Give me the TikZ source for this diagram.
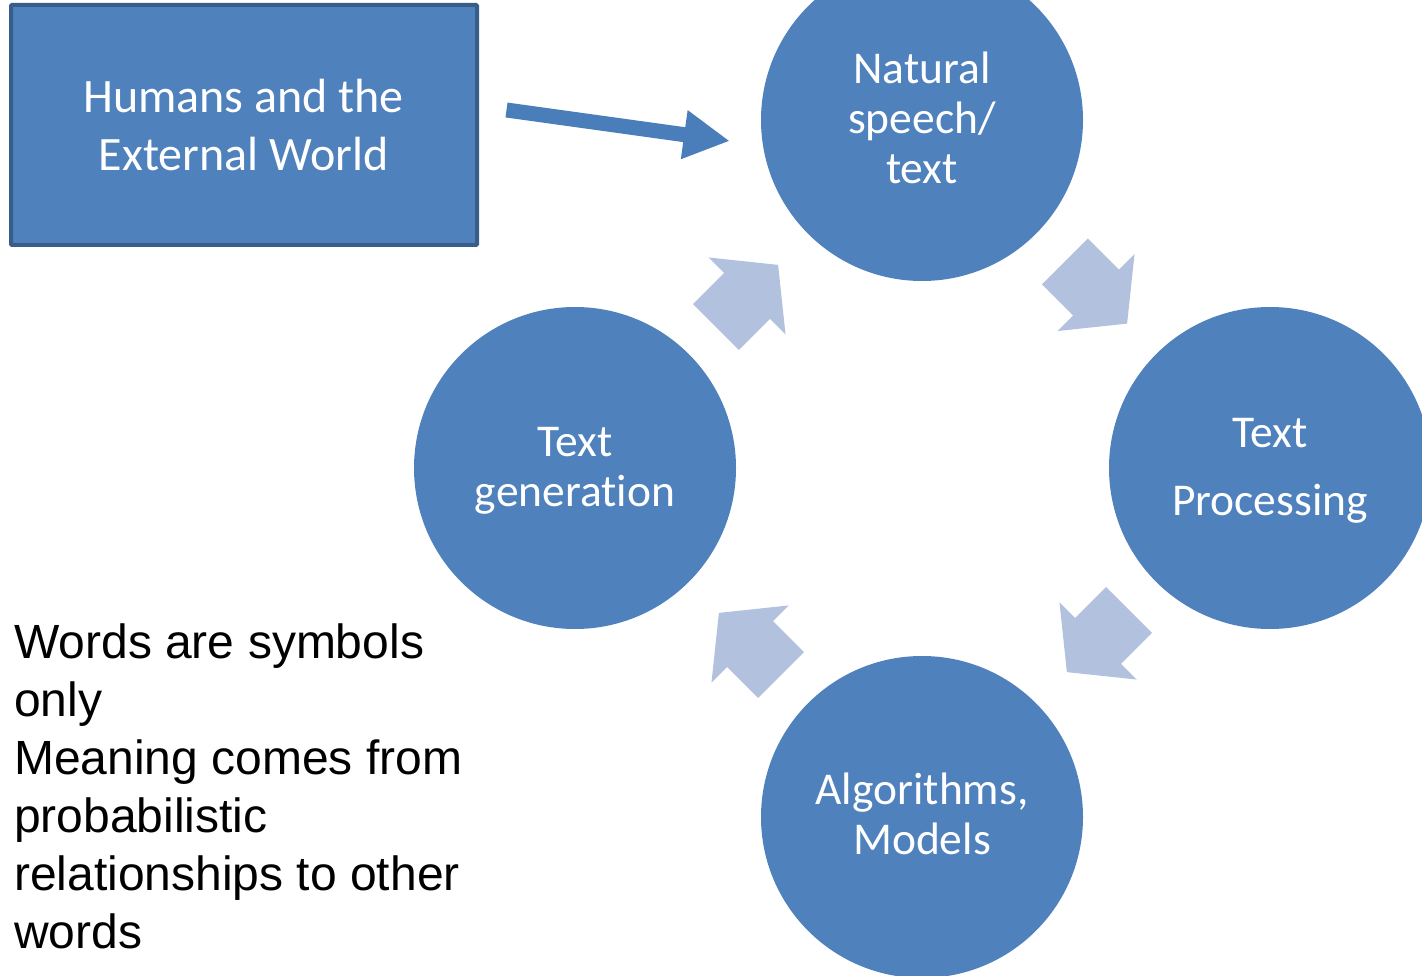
\documentclass[tikz,border=0pt]{standalone}
\usepackage{fontspec}
\setmainfont{Carlito}[Ligatures=NoCommon]
\newfontfamily\notefont{Liberation Sans}
\usetikzlibrary{arrows.meta}
\definecolor{accentblue}{RGB}{79,129,189}
\definecolor{accentborder}{RGB}{56,93,138}
\definecolor{linkblue}{RGB}{74,126,187}
\definecolor{cyclefill}{RGB}{178,193,222}
\begin{document}
\begin{tikzpicture}[x=1pt,y=-1pt,
  stage/.style={circle, fill=accentblue, minimum size=322pt, inner sep=0pt},
  stagetext/.style={text=white, align=center, inner sep=0pt,
    font=\fontsize{45.5}{50}\selectfont},
  cycarrow/.pic={
    \fill[cyclefill] (-44,-32.5) -- (0,-32.5) -- (0,-54.5) -- (44,0)
      -- (0,54.5) -- (0,32.5) -- (-44,32.5) -- cycle;}
]
\useasboundingbox (0,0) rectangle (1422,976);
\clip (0,0) rectangle (1422,976);

% the four stages of the cycle
\node[stage] (nat)  at (922,120)  {};
\node[stage] (proc) at (1270,468) {};
\node[stage] (algo) at (922,817)  {};
\node[stage] (gen)  at (575,468)  {};

\node[stagetext] (natT)  at (922,118)  {Natural\\speech/\\text};
\node[stagetext] (procT) at (1270,471) {Text\\[18pt]Processing};
\node[stagetext] (genT)  at (575,471)  {Text\\generation};
\node[stagetext] (algoT) at (922,814)  {Algorithms,\\Models};

% block arrows between the stages
\pic[rotate=-45]  at (1096,292.5) {cycarrow};
\pic[rotate=-135] at (1098,641)   {cycarrow};
\pic[rotate=135]  at (750,644)    {cycarrow};
\pic[rotate=45]   at (747,296)    {cycarrow};

% source box
\node[draw=accentborder, line width=4pt, fill=accentblue, rounded corners=1pt,
      minimum width=466pt, minimum height=240pt, inner sep=0pt] (hum) at (244,125) {};
\node[text=white, align=center, inner sep=0pt,
      font=\fontsize{48}{58}\selectfont] (humT) at (243.5,125) {Humans and the\\External World};

\draw[linkblue, line width=15pt, -{Triangle[length=46pt,width=46pt]}]
  ([xshift=27.5pt,yshift=15pt]hum.east) -- ([xshift=-31pt,yshift=-21pt]nat.west);

% note
\node[anchor=north west, align=left, inner sep=0pt,
      font=\notefont\fontsize{48}{58}\selectfont] (note) at (14,623.5)
  {Words are symbols\\only\\Meaning comes from\\probabilistic\\relationships to other\\words};
\end{tikzpicture}
\end{document}
